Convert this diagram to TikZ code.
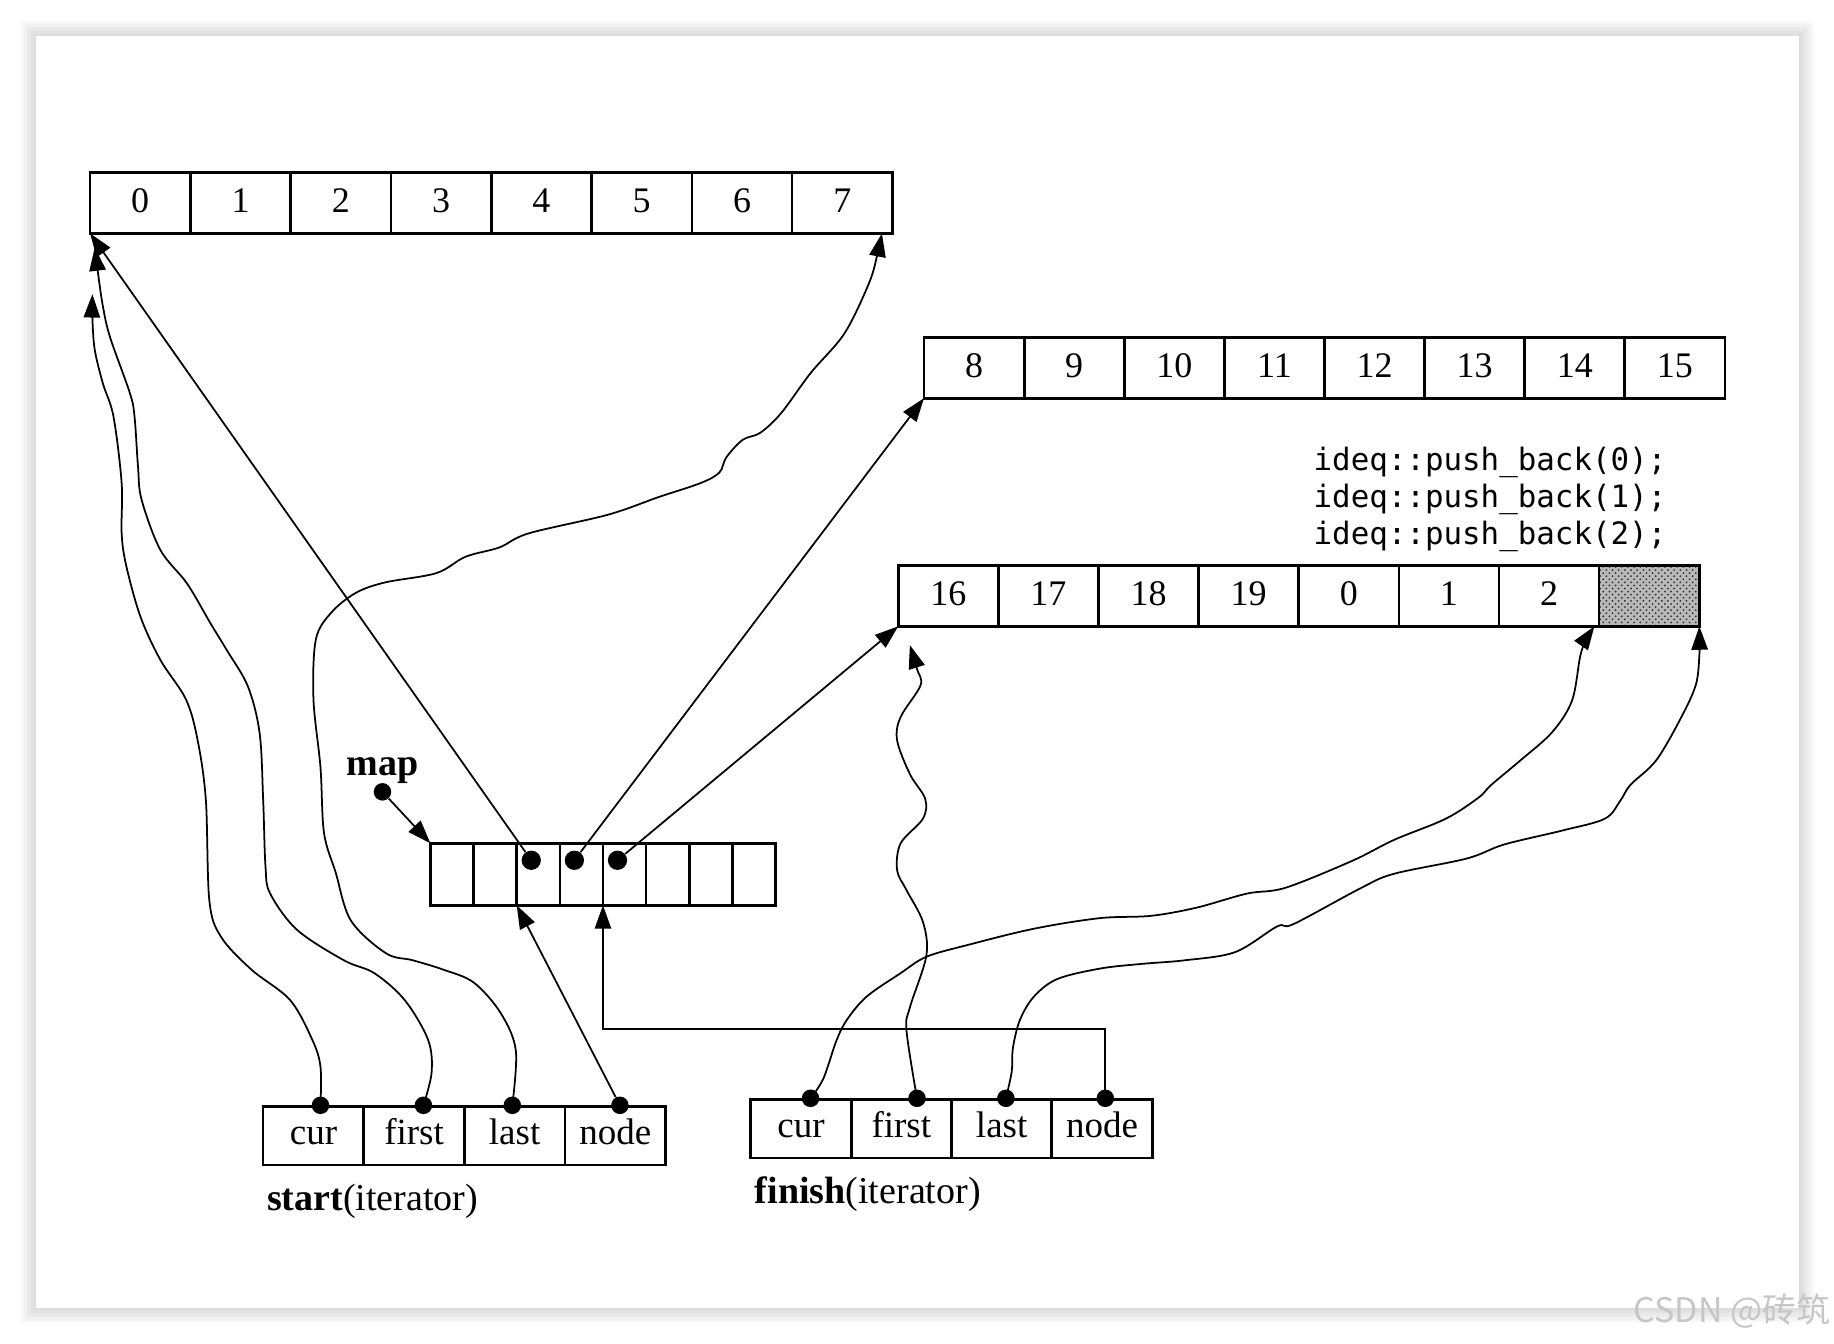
\documentclass[tikz,border=0pt]{standalone}
\usepackage{fontspec}
\setmainfont{Liberation Serif}
\newfontfamily\codefont{DejaVu Sans Mono}
\newfontfamily\cjk{Noto Sans CJK SC}
\usepackage{tikz}
\usetikzlibrary{arrows.meta, positioning, calc, patterns}

\tikzset{
  cell/.style={draw, line width=0.45mm, minimum width=17.15mm, minimum height=10.4mm,
    inner sep=0pt, outer sep=0pt, text height=0.9em, text depth=0em,
    font=\fontsize{17.5}{20}\selectfont},
  mapcell/.style={draw, line width=0.45mm, minimum width=7.375mm, minimum height=10.6mm,
    inner sep=0pt, outer sep=0pt},
  itcell/.style={draw, line width=0.45mm, minimum width=17.2mm, minimum height=10mm,
    inner sep=0pt, outer sep=0pt, text height=0.9em, text depth=0em,
    font=\fontsize{18}{20}\selectfont},
  ptr/.style={line width=0.3mm, -{Triangle[length=4mm, width=2.8mm]}},
  ptrdot/.style={circle, fill, inner sep=0pt, minimum size=3mm},
}

\begin{document}
\begin{tikzpicture}[x=0.2mm, y=-0.2mm]
  \useasboundingbox (0,0) rectangle (1568,1149);
  % page
  \foreach \k in {1,...,12}
    \draw[black, opacity=0.01, line width=\k*0.45mm] (31,31) rectangle (1538,1118);
  \fill[white] (31,31) rectangle (1538,1118);

  % buffers
  \foreach \i in {0,...,7}
    \node[cell] (a\i) at ({77+(\i+0.5)*85.75}, 173.5) {\i};
  \foreach \v [count=\i from 0] in {8,...,15}
    \node[cell] (b\i) at ({790+(\i+0.5)*85.6}, 314.5) {\v};
  \foreach \v [count=\i from 0] in {16,17,18,19,0,1,2}
    \node[cell] (c\i) at ({768+(\i+0.5)*85.6}, 509.5) {\v};
  \node[cell, preaction={fill=gray!55}, pattern=crosshatch dots, pattern color=black!80]
    (c7) at ({768+7.5*85.6}, 509.5) {};

  \node[anchor=east, inner sep=0pt, align=left, font=\codefont\fontsize{15}{18.2}\selectfont]
    (code) at (1425,427) {ideq::push\_back(0);\\ideq::push\_back(1);\\ideq::push\_back(2);};

  % map
  \foreach \i in {0,...,7}
    \node[mapcell] (m\i) at ({368+(\i+0.5)*36.875}, 747.5) {};
  \foreach \i in {2,3,4}
    \node[ptrdot, minimum size=3.3mm] (d\i) at ([shift={(-6,-12)}]m\i.center) {};
  \node[font=\bfseries\fontsize{18.5}{20}\selectfont, inner sep=0pt] (maplbl) at (327,659) {map};
  \node[ptrdot] (mapdot) at (327,677) {};

  % iterators
  \foreach \t [count=\i] in {cur,first,last,node}
    \node[itcell] (s\t) at ({225+(\i-0.5)*86}, 971) {\t};
  \foreach \t [count=\i] in {cur,first,last,node}
    \node[itcell] (f\t) at ({642+(\i-0.5)*85.75}, 965) {\t};
  \node[anchor=west, inner sep=0pt, font=\fontsize{18.5}{20}\selectfont] (startlbl) at (228,1027)
    {\textbf{start}(iterator)};
  \node[anchor=west, inner sep=0pt, font=\fontsize{18.5}{20}\selectfont] (finishlbl) at (645,1021)
    {\textbf{finish}(iterator)};
  \foreach \t/\x in {cur/274, first/362, last/438, node/530}
    \node[ptrdot] (p\t) at (\x,945) {};
  \foreach \t/\x in {cur/693, first/784, last/860, node/945}
    \node[ptrdot] (q\t) at (\x,939) {};

  % pointers
  \draw[ptr] (d2) -- (a0.south west);
  \draw[ptr] (d3) -- (b0.south west);
  \draw[ptr] (d4) -- (c0.south west);
  \draw[ptr] (mapdot) -- (m0.north west);
  \draw[ptr] (pnode) -- (m1.south east);
  \coordinate (bend) at (945,880);
  \draw[ptr] (qnode.center) -- (bend) -| (m3.south east);

  \coordinate (curtip) at ([shift={(2,52)}]a0.south west);
  \coordinate (firsttip) at ([shift={(4,12)}]a0.south west);
  \coordinate (lasttip) at ([shift={(-9,0)}]a7.south east);
  \coordinate (fcurtip) at ([shift={(-4,0)}]c7.south west);
  \coordinate (ffirsttip) at ([shift={(10,16)}]c0.south west);
  \coordinate (flasttip) at (c7.south east);

  \draw[ptr] plot[smooth, tension=0.55] coordinates {(pcur.center) (274,912) (267,889) (248,855)
    (215,829) (189,801) (179,770) (176,684) (169,633) (159,598) (137,564) (120,527) (108,484)
    (104,456) (104,413) (97,356) (88,328) (81,299) (79,272) (curtip)};
  \draw[ptr] plot[smooth, tension=0.55] coordinates {(pfirst.center) (369,917) (366,889) (346,855)
    (320,832) (294,821) (254,795) (231,764) (227,741) (225,684) (222,627) (212,587) (194,556)
    (180,533) (160,499) (137,470) (121,427) (118,399) (115,356) (111,336) (94,288) (88,262)
    (84,235) (firsttip)};
  \draw[ptr] plot[smooth, tension=0.55] coordinates {(plast.center) (441,898) (428,866) (405,840)
    (379,829) (353,821) (330,815) (300,787) (287,746) (277,712) (274,656) (268,598) (270,547)
    (283,524) (304,507) (329,498) (373,490) (398,476) (427,468) (452,456) (520,440) (563,425)
    (599,413) (615,404) (621,391) (635,376) (650,370) (668,353) (693,319) (722,285) (743,242)
    (750,218) (lasttip)};
  \draw[ptr] plot[smooth, tension=0.55] coordinates {(qfirst.center) (775,881) (778,861) (792,817)
    (789,788) (775,761) (767,744) (770,721) (789,700) (791,683) (778,662) (767,633) (770,613)
    (787,586) (784,572) (ffirsttip)};
  \draw[ptr] plot[smooth, tension=0.55] coordinates {(qcur.center) (704,922) (715,890) (724,872)
    (741,852) (770,832) (792,818) (827,808) (884,794) (940,785) (984,783) (1023,776) (1066,764)
    (1099,759) (1156,736) (1192,718) (1236,700) (1264,682) (1275,671) (1300,650) (1327,626)
    (1344,599) (1351,561) (1356,547) (fcurtip)};
  \draw[ptr] plot[smooth, tension=0.55] coordinates {(qlast.center) (865,916) (866,896) (872,872)
    (884,852) (904,837) (941,828) (977,824) (1013,821) (1056,814) (1092,792) (1106,790)
    (1164,759) (1192,747) (1254,734) (1286,722) (1336,710) (1372,700) (1385,685) (1394,671)
    (1416,650) (1437,614) (1450,585) (1453,558) (1453,547) (flasttip)};

  \node[anchor=east, inner sep=0pt, text=gray!45, font=\cjk\fontsize{16.5}{18}\selectfont]
    (mark) at (1565,1121) {CSDN @砖筑};
\end{tikzpicture}
\end{document}
